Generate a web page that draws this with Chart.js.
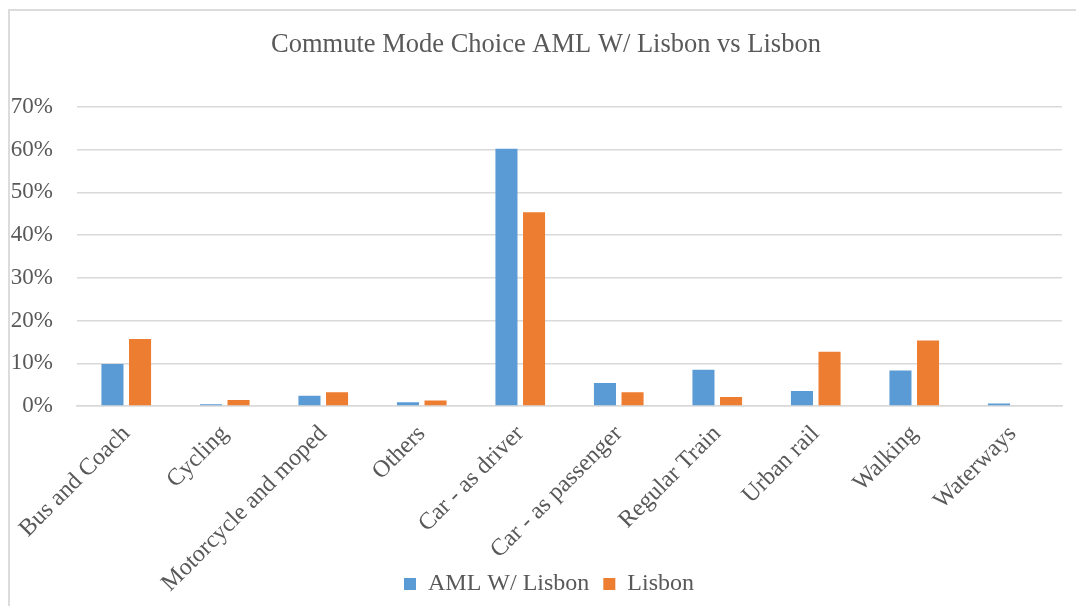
<!DOCTYPE html>
<html>
<head>
<meta charset="utf-8">
<script src="https://cdn.jsdelivr.net/npm/chart.js@4.4.1/dist/chart.umd.min.js"></script>
<style>
  html, body { margin: 0; padding: 0; background: #ffffff; }
  #wrap { position: relative; width: 1076px; height: 606px; overflow: hidden; }
  #frame { position: absolute; left: 8px; top: 9px; width: 2000px; height: 2000px;
           border-left: 2px solid #dcdcdc; border-top: 2px solid #dcdcdc; }
  canvas { position: absolute; left: 0; top: 0; }
</style>
</head>
<body>
<div id="wrap">
  <div id="frame"></div>
  <canvas id="c" width="1076" height="606"></canvas>
</div>
<script>
const categories = ['Bus and Coach', 'Cycling', 'Motorcycle and moped', 'Others', 'Car - as driver',
                    'Car - as passenger', 'Regular Train', 'Urban rail', 'Walking', 'Waterways'];
const amlWithLisbon = [9.8, 0.4, 2.4, 0.9, 60.2, 5.4, 8.5, 3.5, 8.3, 0.6];
const lisbon = [15.7, 1.4, 3.2, 1.3, 45.3, 3.2, 2.1, 12.7, 15.3, 0.0];
const seriesNames = ['AML W/ Lisbon', 'Lisbon'];
const yTickLabels = ['0%', '10%', '20%', '30%', '40%', '50%', '60%', '70%'];
const chartTitle = 'Commute Mode Choice AML W/ Lisbon vs Lisbon';

const FONT = "'Liberation Serif', 'Times New Roman', serif";
const TXT = '#595959';
const GRID = '#d9d9d9';

// shifts title/legend to the reference centre and lets the rotated labels overflow their box
const layoutTweaks = {
  id: 'layoutTweaks',
  afterLayout(chart) {
    if (chart.titleBlock) { chart.titleBlock.left += 11; chart.titleBlock.right += 11; }
    if (chart.legend) { chart.legend.left += 14; chart.legend.right += 14; }
    if (chart.scales.x) { chart.scales.x.bottom = chart.height; }
  }
};

new Chart(document.getElementById('c'), {
  type: 'bar',
  data: {
    labels: categories,
    datasets: [
      { label: seriesNames[0], data: amlWithLisbon, backgroundColor: '#5b9bd5',
        categoryPercentage: 0.56, barPercentage: 0.8 },
      { label: seriesNames[1], data: lisbon, backgroundColor: '#ed7d31',
        categoryPercentage: 0.56, barPercentage: 0.8 }
    ]
  },
  plugins: [layoutTweaks],
  options: {
    responsive: false,
    animation: false,
    devicePixelRatio: 1,
    layout: { padding: { left: 8, right: 14, top: 9, bottom: 0 } },
    plugins: {
      title: {
        display: true, text: chartTitle, color: TXT,
        font: { family: FONT, size: 26.5, weight: 'normal' },
        padding: { top: 20, bottom: 46 }
      },
      legend: {
        position: 'bottom',
        labels: { color: TXT, font: { family: FONT, size: 24 }, boxWidth: 12, boxHeight: 12, padding: 14 }
      },
      tooltip: { enabled: false }
    },
    scales: {
      x: {
        grid: { display: false, drawTicks: false },
        border: { display: true, color: GRID, width: 1.5 },
        ticks: { color: TXT, font: { family: FONT, size: 24 }, minRotation: 45, maxRotation: 45, padding: 14, autoSkip: false },
        afterFit: (s) => { s.height = 152; }
      },
      y: {
        min: 0, max: 70,
        grid: { color: GRID, lineWidth: 1.5, drawTicks: false },
        border: { display: false },
        ticks: {
          stepSize: 10, color: TXT, font: { family: FONT, size: 23 }, padding: 24,
          callback: (v) => yTickLabels[Math.round(v / 10)]
        },
        afterFit: (s) => { s.width = 69; }
      }
    }
  }
});
</script>
</body>
</html>
